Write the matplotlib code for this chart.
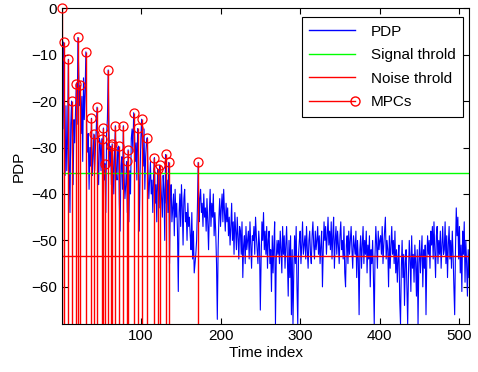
import matplotlib
matplotlib.use('Agg')
import matplotlib.pyplot as plt
from matplotlib.lines import Line2D
from matplotlib.legend_handler import HandlerLine2D
import numpy as np

plt.rcParams['font.family'] = ['Liberation Sans', 'DejaVu Sans']
plt.rcParams['font.size'] = 11

# power delay profile (dB), time index 1..512
pdp = [
    0, -26, -7.3, -30, -36, -21, -35, -28, -11, -33, -44, -25, -20, -31, -38, -24,
    -29, -22, -16.3, -25, -6.3, -14, -21, -16.6, -27, -19, -33, -15, -24, -18, -9.4, -26,
    -31, -27, -39, -30, -34, -23.7, -36, -32, -27.1, -35, -30, -26, -21.3, -33, -38, -28,
    -29, -35, -28.1, -31, -25.8, -37, -33.5, -44, -27, -24, -13.3, -26, -34, -29.7, -38, -29.2,
    -33, -40, -31, -25.3, -35, -37, -30, -29.7, -42, -48, -34, -32, -39, -25.3, -36, -41,
    -38, -33, -44, -30.5, -46, -35, -40, -28, -26, -31, -22.5, -27, -33, -29, -37, -25.9,
    -31, -48, -36, -28, -23.9, -30, -34, -26, -39, -32, -29, -27.9, -35, -41, -37, -33,
    -40, -37, -44, -36, -32.2, -42, -38, -46, -34.6, -39, -43, -33.8, -37, -41, -45, -36,
    -39, -50, -31.5, -42, -37, -44, -33.2, -55, -41, -38, -46, -43, -40, -49, -39, -45,
    -42, -48, -61, -44, -40, -47, -38, -43, -51, -41, -39, -46, -44, -50, -42, -47,
    -45, -49, -52, -44, -54, -48, -57, -55, -53, -50, -43, -33.2, -46, -41, -39, -44,
    -42, -47, -40, -45, -43, -48, -41, -46, -52, -44, -39, -47, -42, -45, -40, -49,
    -44, -48, -55, -67, -52, -45, -41, -47, -43, -40, -46, -39, -44, -48, -42, -46,
    -43, -49, -45, -51, -47, -42, -50, -46, -53, -44, -48, -52, -45, -49, -54, -47,
    -48, -53, -46, -58, -51, -49, -55, -47, -52, -50, -48, -54, -46, -51, -56, -49,
    -50, -47, -53, -45, -49, -52, -55, -48, -51, -65, -54, -46, -50, -44, -52, -48,
    -53, -47, -56, -50, -48, -55, -52, -61, -49, -57, -51, -46, -68, -54, -50, -53,
    -50, -55, -48, -52, -57, -47, -53, -49, -56, -51, -47, -54, -62, -50, -58, -49,
    -66, -52, -68, -57, -49, -55, -47, -60, -68, -53, -50, -48, -55, -51, -46, -53,
    -51, -49, -54, -47, -52, -56, -50, -48, -53, -55, -49, -46, -51, -54, -48, -52,
    -50, -47, -53, -49, -55, -51, -48, -60, -52, -46, -50, -47, -53, -49, -45, -51,
    -48, -52, -46, -54, -49, -45, -56, -50, -47, -53, -48, -51, -55, -49, -46, -52,
    -50, -54, -47, -57, -60, -51, -49, -55, -48, -53, -50, -47, -52, -56, -49, -51,
    -53, -48, -58, -50, -54, -66, -52, -49, -56, -51, -47, -55, -50, -53, -48, -57,
    -51, -54, -49, -60, -52, -55, -50, -58, -68, -53, -47, -51, -56, -48, -52, -50,
    -49, -53, -47, -55, -51, -48, -45, -54, -50, -52, -60, -49, -56, -51, -47, -53,
    -50, -55, -48, -57, -52, -59, -54, -51, -63, -68, -56, -50, -58, -53, -64, -55,
    -52, -60, -68, -57, -50, -54, -61, -49, -56, -53, -59, -51, -55, -62, -52, -68,
    -55, -50, -57, -53, -49, -60, -52, -56, -51, -66, -54, -49, -53, -50, -56, -48,
    -51, -47, -54, -46, -52, -58, -49, -47, -55, -50, -53, -48, -56, -51, -47, -53,
    -52, -46, -55, -49, -58, -51, -47, -54, -50, -56, -48, -53, -60, -66, -52, -43,
    -49, -45, -54, -47, -57, -51, -61, -48, -53, -46, -59, -50, -55, -62, -52, -58,
]
time_idx = np.arange(1, len(pdp) + 1)

signal_throld = -35.4
noise_throld = -53.3

# time indices of the detected multipath components
mpc_idx = [1, 3, 9, 13, 19, 21, 24, 31, 38, 41, 45, 51, 53, 55, 59, 62, 64, 68,
           72, 78, 82, 84, 91, 96, 101, 108, 117, 121, 124, 131, 135, 172]
mpc_val = [pdp[i - 1] for i in mpc_idx]


class MarkerAtEnd(HandlerLine2D):
    # matlab style stem legend: marker sits on the right end of the line
    def create_artists(self, *args, **kwargs):
        artists = super().create_artists(*args, **kwargs)
        for a in artists:
            a.set_markevery([2])
        return artists


fig = plt.figure(figsize=(4.78, 3.72), dpi=100)
ax = fig.add_axes([0.1297, 0.129, 0.8515, 0.849])

ax.plot(time_idx, pdp, color='#0000ff', lw=0.8)
ax.axhline(signal_throld, color='#00ff00', lw=1)
ax.axhline(noise_throld, color='#ff0000', lw=1)
ax.vlines(mpc_idx, -80, mpc_val, color='#ff0000', lw=1)
ax.plot(mpc_idx, mpc_val, 'o', mfc='none', mec='#ff0000', ms=6.5, mew=0.9,
        clip_on=False, zorder=5)

ax.set_xlim(1, 512)
ax.set_ylim(-68, 0)
ax.set_xticks([100, 200, 300, 400, 500])
ax.set_yticks([-60, -50, -40, -30, -20, -10, 0])
ax.tick_params(direction='in', top=True, right=True, length=4, width=0.8)
ax.set_xlabel('Time index', labelpad=2)
ax.set_ylabel('PDP', labelpad=4)

mpc_handle = Line2D([], [], color='#ff0000', lw=1, marker='o', mfc='none',
                    mec='#ff0000', ms=6.5)
handles = [Line2D([], [], color='#0000ff', lw=1),
           Line2D([], [], color='#00ff00', lw=1),
           Line2D([], [], color='#ff0000', lw=1),
           mpc_handle]
leg = ax.legend(handles, ['PDP', 'Signal throld', 'Noise throld', 'MPCs'],
                loc='upper right', bbox_to_anchor=(0.985, 0.972), borderaxespad=0,
                fancybox=False, framealpha=1, edgecolor='black', handlelength=3.0,
                labelspacing=0.62, borderpad=0.5, handletextpad=1.0,
                handler_map={mpc_handle: MarkerAtEnd()})
leg.get_frame().set_linewidth(0.8)

fig.savefig('out.png', dpi=100)
